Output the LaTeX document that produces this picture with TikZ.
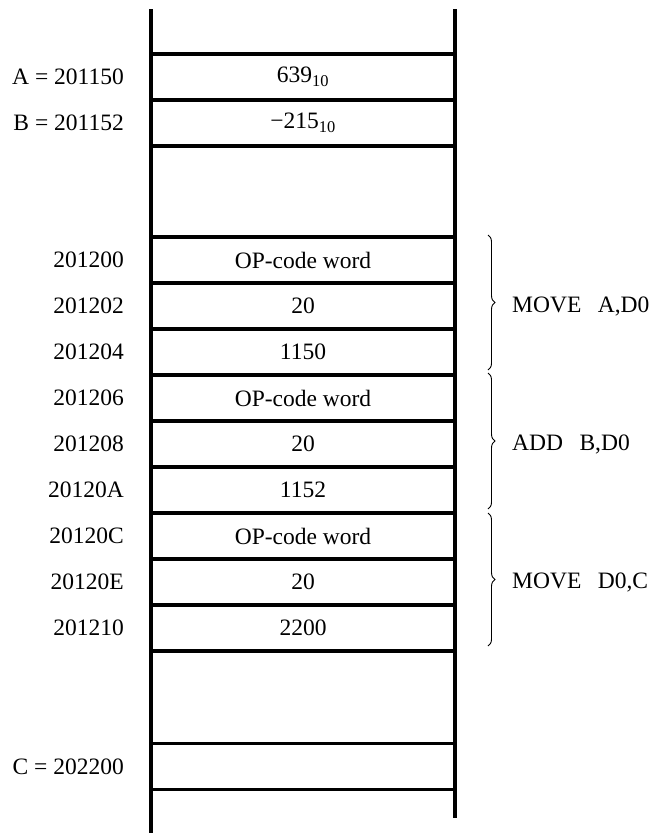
\documentclass[tikz,border=0pt]{standalone}
\usepackage{fontspec}
\setmainfont{Liberation Serif}
\usetikzlibrary{decorations.pathreplacing,calc}
\begin{document}
\begin{tikzpicture}[x=1pt,y=-1pt,
  txt/.style={font=\fontsize{23.5}{27}\selectfont},
  cell/.style={draw,line width=3.5pt,minimum width=304pt,minimum height=46pt,inner sep=0pt,outer sep=0pt,txt},
  addr/.style={anchor=east,inner sep=0pt,txt},
  grp/.style={anchor=west,inner sep=0pt,txt},
  rail/.style={line width=4pt},
  brc/.style={decorate,decoration={brace,amplitude=7pt},line width=0.9pt}]
\useasboundingbox (0,0) rectangle (655,833);

% data cells
\node[cell] (a) at (303,77) {639\textsubscript{10}};
\node[cell] (b) at (303,123) {−215\textsubscript{10}};
% program cells
\node[cell] (p1) at (303,260) {OP-code word};
\node[cell] (p2) at (303,306) {20};
\node[cell] (p3) at (303,352) {1150};
\node[cell] (p4) at (303,398) {OP-code word};
\node[cell] (p5) at (303,444) {20};
\node[cell] (p6) at (303,490) {1152};
\node[cell] (p7) at (303,536) {OP-code word};
\node[cell] (p8) at (303,582) {20};
\node[cell] (p9) at (303,628) {2200};
% result cell
\node[cell] (c) at (303,766.5) {};

% rails
\coordinate (lt) at (151,9);
\coordinate (lb) at (151,833);
\coordinate (rt) at (455,9);
\coordinate (rb) at (455,818);
\draw[rail] (lt) -- (lb);
\draw[rail] (rt) -- (rb);

% address labels
\node[addr] (la) at ($(a.west)+(-27,0)$) {A = 201150};
\node[addr] (lbb) at ($(b.west)+(-27,0)$) {B = 201152};
\node[addr] (l1) at ($(p1.west)+(-27,0)$) {201200};
\node[addr] (l2) at ($(p2.west)+(-27,0)$) {201202};
\node[addr] (l3) at ($(p3.west)+(-27,0)$) {201204};
\node[addr] (l4) at ($(p4.west)+(-27,0)$) {201206};
\node[addr] (l5) at ($(p5.west)+(-27,0)$) {201208};
\node[addr] (l6) at ($(p6.west)+(-27,0)$) {20120A};
\node[addr] (l7) at ($(p7.west)+(-27,0)$) {20120C};
\node[addr] (l8) at ($(p8.west)+(-27,0)$) {20120E};
\node[addr] (l9) at ($(p9.west)+(-27,0)$) {201210};
\node[addr] (lc) at ($(c.west)+(-27,0)$) {C = 202200};

% braces
\draw[brc] ($(p1.north east)+(33,-2)$) -- ($(p3.south east)+(33,-5)$);
\draw[brc] ($(p4.north east)+(33,-2)$) -- ($(p6.south east)+(33,-4)$);
\draw[brc] ($(p7.north east)+(33,0)$) -- ($(p9.south east)+(33,-5)$);

% instruction labels
\node[grp] (g1) at ($(p2.east)+(57,0)$) {MOVE\hspace{0.7em}A,D0};
\node[grp] (g2) at ($(p5.east)+(57,0)$) {ADD\hspace{0.7em}B,D0};
\node[grp] (g3) at ($(p8.east)+(57,0)$) {MOVE\hspace{0.7em}D0,C};
\end{tikzpicture}
\end{document}
